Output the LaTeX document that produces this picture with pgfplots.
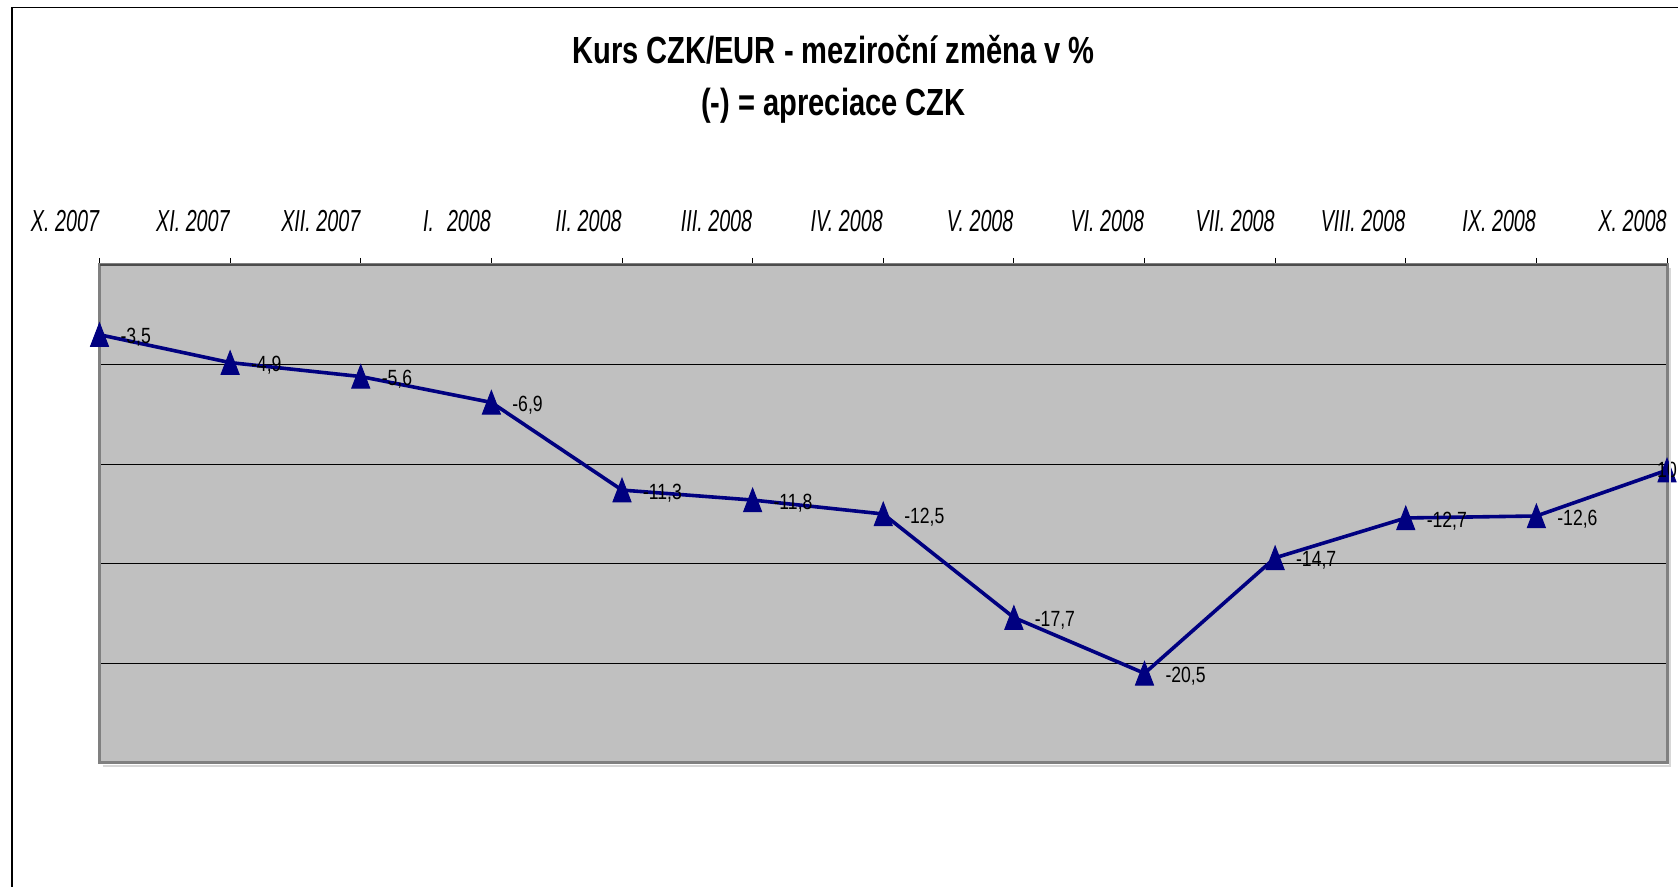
\documentclass[border=0pt]{standalone}
\usepackage{pgfplots}
\pgfplotsset{compat=1.18}
\usepackage{fontspec}
\setmainfont{Liberation Sans}
\usepackage{graphicx}
\definecolor{navy}{RGB}{0,0,128}
\definecolor{plotgray}{RGB}{192,192,192}
\definecolor{bordergray}{RGB}{128,128,128}
\definecolor{shadowgray}{RGB}{215,215,215}
\newcommand{\xl}[1]{\scalebox{0.65}[1]{#1}}
\pgfplotstableread{
x y label
0 -3.5 -3,5
1 -4.9 -4,9
2 -5.6 -5,6
3 -6.9 -6,9
4 -11.3 -11,3
5 -11.8 -11,8
6 -12.5 -12,5
7 -17.7 -17,7
8 -20.5 -20,5
9 -14.7 -14,7
10 -12.7 -12,7
11 -12.6 -12,6
12 -10.3 10
}\datatable
\pgfplotstableread{
x y label
0 -3.5 -3,5
1 -4.9 -4,9
2 -5.6 -5,6
3 -6.9 -6,9
4 -11.3 -11,3
5 -11.8 -11,8
6 -12.5 -12,5
7 -17.7 -17,7
8 -20.5 -20,5
9 -14.7 -14,7
10 -12.7 -12,7
11 -12.6 -12,6
}\labtable
\begin{document}
\begin{tikzpicture}
\useasboundingbox (0,0) rectangle (839pt,443.5pt);
\draw[line width=0.75pt] (6pt,-20pt) -- (6pt,439.75pt) -- (900pt,439.75pt);
\node[font=\fontsize{18.9}{22}\selectfont\bfseries, anchor=base, inner sep=0pt] at (416.7pt,411.5pt) {\scalebox{0.77}[1]{Kurs CZK/EUR - meziroční změna v \%}};
\node[font=\fontsize{18.9}{22}\selectfont\bfseries, anchor=base, inner sep=0pt] at (416.7pt,385.7pt) {\scalebox{0.77}[1]{(-) = apreciace CZK}};
\begin{axis}[
  at={(49.75pt,62pt)}, anchor=south west,
  scale only axis, width=783.75pt, height=249pt,
  xmin=0, xmax=12, ymin=-25, ymax=0,
  axis background/.style={fill=plotgray},
  axis line style={bordergray, line width=1.5pt},
  xtick={0,...,12},
  xticklabels={\xl{X. 2007},\xl{XI. 2007},\xl{XII. 2007},\xl{I.\hspace{10pt}2008},\xl{II. 2008},\xl{III. 2008},\xl{IV. 2008},\xl{V. 2008},\xl{VI. 2008},\xl{VII. 2008},\xl{VIII. 2008},\xl{IX. 2008},\xl{X. 2008}},
  xtick pos=right, xticklabel pos=right,
  tick align=outside, major tick length=3.5pt,
  xtick style={black, line width=0.5pt},
  xticklabel style={anchor=base east, inner sep=0pt, yshift=13pt, font=\fontsize{15.2}{17}\selectfont\itshape},
  ytick={-20,-15,-10,-5}, yticklabels={},
  ytick style={draw=none},
  ymajorgrids, grid style={black, line width=0.5pt},
  clip=false,
]
\addplot[navy, line width=1.8pt, mark=triangle*, mark size=5.2pt, mark options={yshift=-1.95pt, yscale=1.5, fill=navy, draw=navy, solid, line width=0.5pt}] table[x=x, y=y] {\datatable};
\addplot[draw=none, point meta=explicit symbolic,
  nodes near coords={\scalebox{0.8}[1]{\pgfplotspointmeta}},
  nodes near coords style={anchor=west, xshift=10.3pt, yshift=-1.5pt, inner sep=0pt, font=\fontsize{11}{13}\selectfont, black}] table[x=x, y=y, meta=label] {\labtable};
\addplot[draw=none, point meta=explicit symbolic,
  nodes near coords={\scalebox{0.8}[1]{\pgfplotspointmeta}},
  nodes near coords style={anchor=center, xshift=0pt, yshift=0pt, inner sep=0pt, font=\fontsize{11}{13}\selectfont, black}] coordinates {(12,-10.3) [10]};
\coordinate (sw) at (rel axis cs:0,0);
\coordinate (se) at (rel axis cs:1,0);
\coordinate (ne) at (rel axis cs:1,1);
\coordinate (nw) at (rel axis cs:0,1);
\end{axis}
\draw[shadowgray, line width=1.2pt] ([shift={(1.5pt,-1.4pt)}]sw) -- ([shift={(1.4pt,-1.4pt)}]se) -- ([shift={(1.4pt,-1.5pt)}]ne);
\draw[black!70, line width=1pt] (nw) -- (ne);
\end{tikzpicture}
\end{document}
